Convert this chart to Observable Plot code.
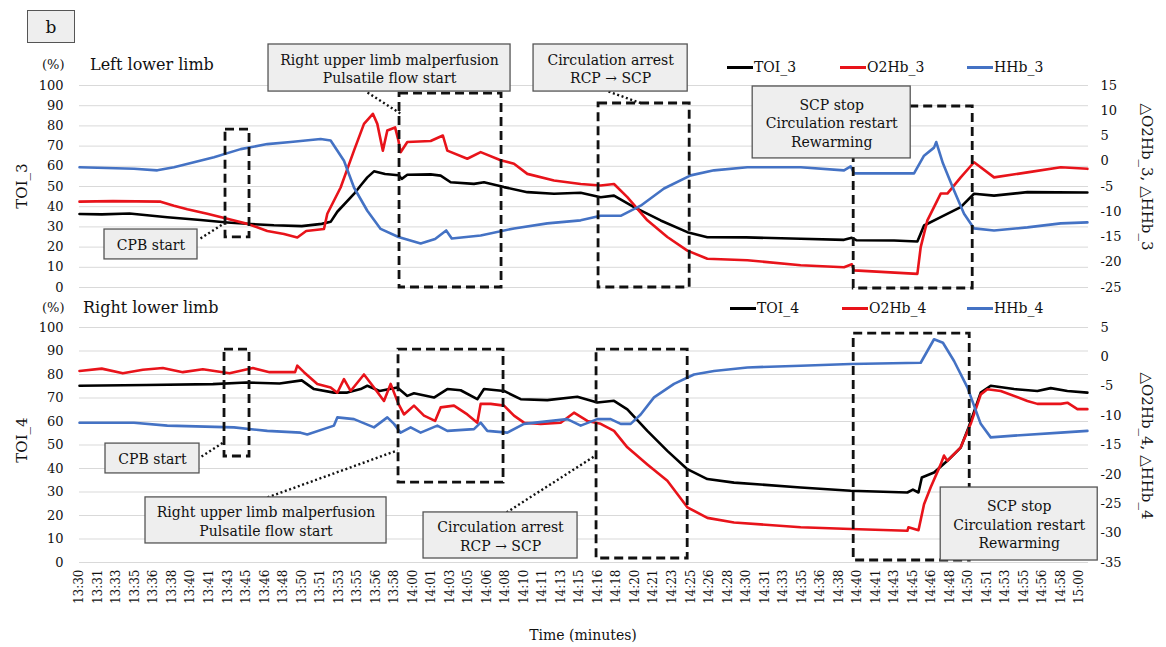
<!DOCTYPE html>
<html>
<head>
<meta charset="utf-8">
<script src="https://cdn.jsdelivr.net/npm/d3@7"></script>
<script src="https://cdn.jsdelivr.net/npm/@observablehq/plot@0.6"></script>
<style>
  body { margin: 0; background: #fff; }
  #chart { position: relative; width: 1166px; height: 647px; font-family: "DejaVu Serif", serif; color: #111; overflow: hidden; }
  .panel { position: absolute; left: 0; }
  .lbl { position: absolute; white-space: nowrap; line-height: 1; }
  .ctr { transform: translate(-50%, -50%); }
  .legend { position: absolute; white-space: nowrap; font-size: 14px; line-height: 1; transform: translateY(-50%); display: flex; align-items: center; }
  .legend i { display: inline-block; width: 26px; height: 3px; margin-right: 1px; }
  .figtag { position: absolute; left: 27px; top: 10px; width: 46px; height: 31px; border: 1.5px solid #555; background: #eee;
            font-size: 17px; display: flex; align-items: center; justify-content: center; }
</style>
</head>
<body>
<div id="chart">
  <div class="figtag">b</div>
  <div id="topPanel" class="panel" style="top:0"></div>
  <div id="bottomPanel" class="panel" style="top:300px"></div>

  <div class="lbl" style="left:42px;top:58px;font-size:13px">(%)</div>
  <div class="lbl" style="left:90px;top:57px;font-size:16px">Left lower limb</div>
  <div class="lbl" style="left:42px;top:301px;font-size:13px">(%)</div>
  <div class="lbl" style="left:83px;top:300px;font-size:16px">Right lower limb</div>

  <div class="lbl" style="left:22px;top:186px;font-size:15px;transform:translate(-50%,-50%) rotate(-90deg)">TOI_3</div>
  <div class="lbl" style="left:22px;top:440px;font-size:15px;transform:translate(-50%,-50%) rotate(-90deg)">TOI_4</div>
  <div class="lbl" style="left:1146px;top:177px;font-size:15px;transform:translate(-50%,-50%) rotate(90deg)">△O2Hb_3, △HHb_3</div>
  <div class="lbl" style="left:1146px;top:446px;font-size:15px;transform:translate(-50%,-50%) rotate(90deg)">△O2Hb_4, △HHb_4</div>

  <div class="legend" style="left:727px;top:67px"><i style="background:#000"></i>TOI_3</div>
  <div class="legend" style="left:840px;top:67px"><i style="background:#e8131a"></i>O2Hb_3</div>
  <div class="legend" style="left:967px;top:67px"><i style="background:#4472c4"></i>HHb_3</div>
  <div class="legend" style="left:730px;top:308px"><i style="background:#000"></i>TOI_4</div>
  <div class="legend" style="left:842px;top:308px"><i style="background:#e8131a"></i>O2Hb_4</div>
  <div class="legend" style="left:967px;top:308px"><i style="background:#4472c4"></i>HHb_4</div>

  <div class="lbl ctr" style="left:583px;top:635px;font-size:14px">Time (minutes)</div>
</div>

<script>
// ---- Time axis: minutes after 13:30, one label every 100 s ----
const timeLabels = ["13:30","13:31","13:33","13:35","13:36","13:38","13:40","13:41","13:43","13:45","13:46","13:48",
  "13:50","13:51","13:53","13:55","13:56","13:58","14:00","14:01","14:03","14:05","14:06","14:08","14:10","14:11",
  "14:13","14:15","14:16","14:18","14:20","14:21","14:23","14:25","14:26","14:28","14:30","14:31","14:33","14:35",
  "14:36","14:38","14:40","14:41","14:43","14:45","14:46","14:48","14:50","14:51","14:53","14:55","14:56","14:58","15:00"];
const timeEnd = 90.8; // last sample, minutes after 13:30

const leftTicks = [0, 10, 20, 30, 40, 50, 60, 70, 80, 90, 100];
const rightTicksTop = [15, 10, 5, 0, -5, -10, -15, -20, -25];
const rightTicksBottom = [5, 0, -5, -10, -15, -20, -25, -30, -35];

// ---- Left lower limb: [minute, value] ----
const TOI_3 = [[0,36.4],[2,36.2],[4.5,36.6],[7.9,34.8],[10.9,33.4],[13.3,32.2],[15.4,31.4],[17.5,30.8],[20,30.4],
  [21.8,31.5],[22.6,32.5],[23.2,37.5],[24.7,46.3],[25.3,50.5],[25.9,54.5],[26.5,57.5],[27.5,56.2],[28.7,55.6],[29,53.8],
  [29.5,55.8],[31.6,56],[32.5,55.4],[33.4,52.1],[35.5,51.3],[36.4,52.1],[38.2,49.7],[40.3,47.2],[42.7,46.4],[45.1,46.9],
  [46.9,44.7],[48.1,45.5],[49.9,39.8],[52.3,33.2],[54.7,27.4],[56.5,24.9],[60,24.8],[64.9,24.1],[68.8,23.6],[69.5,24.6],
  [69.9,23.4],[73.3,23.3],[75.4,22.8],[76,30.7],[77.5,34.8],[79.3,39.8],[80.5,46.4],[82.3,45.5],[85.3,47.2],[90.7,47]];
const O2Hb_3 = [[0,-8.0],[3,-7.9],[7.3,-8.0],[8.5,-8.8],[9.7,-9.5],[11.5,-10.4],[13.3,-11.4],[15.1,-12.4],[16.9,-13.8],
  [18.4,-14.4],[19.6,-15.1],[20.4,-13.8],[22,-13.4],[22.3,-10.4],[23.5,-5.2],[24.7,2.1],[25.6,7.4],[26.4,9.4],[26.8,7.4],
  [27.3,2.1],[27.7,6.1],[28.4,6.7],[28.7,4.1],[28.9,1.8],[29.5,3.8],[31.6,4.0],[32.7,5.1],[33.1,2.1],[34.9,0.5],[36.1,1.8],
  [37.9,0.2],[39.1,-0.5],[40.3,-2.5],[42.7,-3.8],[45.1,-4.5],[46.9,-4.8],[48.1,-4.5],[49.3,-7.1],[51.1,-11.7],[52.9,-15.0],
  [54.7,-17.7],[56.5,-19.3],[60.1,-19.6],[64.9,-20.6],[68.8,-21.0],[69.5,-20.4],[69.7,-21.6],[75.4,-22.3],[75.7,-17.0],
  [76.3,-11.7],[77.5,-6.4],[78.1,-6.4],[79.3,-3.2],[80.5,-0.2],[82.3,-3.2],[85.3,-2.2],[88.3,-1.2],[90.7,-1.5]];
const HHb_3 = [[0,-1.2],[4.9,-1.5],[7,-1.8],[8.5,-1.2],[10.3,-0.2],[12.1,0.8],[14.5,2.4],[16.9,3.4],[19,3.8],[21.7,4.4],
  [22.6,4.1],[23.8,0.1],[24.7,-5.2],[25.9,-9.8],[27.1,-13.4],[28.7,-15.0],[30.7,-16.3],[32,-15.4],[33,-13.7],[33.5,-15.3],
  [36.1,-14.7],[39.1,-13.3],[42.1,-12.3],[45.1,-11.7],[46.9,-10.8],[48.7,-10.8],[50.5,-8.8],[52.6,-5.4],[55,-2.8],
  [57.1,-1.8],[60.1,-1.2],[64.9,-1.2],[68.8,-1.8],[69.4,-1.0],[69.7,-2.4],[75.1,-2.4],[76,1.1],[76.9,2.7],[77.1,3.8],
  [77.7,-0.4],[78.7,-5.8],[79.6,-10.4],[80.5,-13.3],[82.3,-13.7],[85.3,-13.1],[88.3,-12.3],[90.7,-12.1]];

// ---- Right lower limb: [minute, value] ----
const TOI_4 = [[0,75.2],[6,75.5],[12,75.9],[15,76.6],[18,76.2],[20,77.5],[21.1,73.8],[22.9,72.3],[24.1,72.3],[25.3,73.8],
  [25.9,75.2],[27,73],[28.6,74.5],[29.5,70.9],[30.1,72],[31.9,70.2],[33.1,73.8],[34.3,73.3],[35.8,69.5],[36.4,73.8],
  [38.2,73],[39.7,69.5],[42.1,69.1],[44.8,70.5],[46.6,68.1],[48.1,68.8],[49.3,65.2],[51.1,56],[52.9,47.5],[54.7,39.7],
  [56.5,35.5],[58.9,34],[64.9,31.9],[69.4,30.5],[74.5,29.8],[75,31],[75.5,29.8],[75.8,36.2],[76.9,38.3],[78.1,43.3],
  [79.3,48.9],[80,57.4],[81.1,72.3],[82,75.2],[84.1,73.8],[86.2,73],[87.4,74.2],[88.9,73],[90.7,72.3]];
const O2Hb_4 = [[0,-2.4],[2,-2.0],[3.9,-2.8],[5.7,-2.2],[7.5,-1.9],[9.3,-2.6],[11.1,-2.1],[13.5,-2.8],[15.6,-1.9],
  [17.1,-2.6],[19.4,-2.6],[19.6,-1.5],[20.2,-2.6],[21.4,-4.6],[22.6,-5.2],[23.2,-6.1],[23.8,-3.8],[24.4,-5.8],[25.6,-3.0],
  [26.5,-5.2],[27.4,-7.5],[28,-4.6],[28.7,-8.0],[29.2,-9.8],[30.1,-8.3],[31,-10.0],[32,-10.9],[32.5,-8.6],[33.7,-8.3],
  [34.9,-9.8],[35.8,-11.2],[36.1,-8.0],[37,-8.0],[38.2,-8.3],[39.1,-10.0],[40,-11.2],[41.5,-11.4],[43.3,-11.2],[44.5,-9.5],
  [45.7,-10.9],[46.9,-11.4],[48.1,-12.6],[49.3,-15.4],[51.1,-18.3],[52.9,-21.1],[54.7,-25.6],[56.5,-27.4],[58.9,-28.2],
  [64.9,-29.0],[69.4,-29.3],[74.5,-29.6],[74.6,-29.0],[75.5,-29.5],[76,-25.1],[76.6,-22.2],[77.5,-18.3],[77.8,-16.8],
  [78.1,-17.7],[79.3,-15.4],[80.2,-11.4],[81.1,-6.4],[81.7,-5.5],[82.9,-5.8],[85.3,-7.5],[86.2,-8.0],[88.3,-8.0],
  [88.9,-7.8],[89.8,-8.9],[90.7,-8.9]];
const HHb_4 = [[0,-11.2],[4.9,-11.2],[7.9,-11.7],[13.9,-12.0],[16.9,-12.6],[19.9,-12.9],[20.5,-13.2],[22.9,-11.7],
  [23.2,-10.3],[24.7,-10.6],[26.5,-12.0],[27.7,-10.3],[28.3,-11.4],[28.9,-12.9],[29.8,-12.0],[30.7,-12.9],[32.2,-11.7],
  [33.1,-12.6],[35.5,-12.3],[36.1,-11.2],[36.7,-12.6],[38.5,-12.9],[40,-11.4],[43.9,-10.6],[45.1,-11.7],[46.6,-10.6],
  [47.8,-10.6],[48.7,-11.4],[49.6,-11.4],[50.5,-9.8],[51.7,-6.9],[53.5,-4.6],[55.3,-3.0],[57.1,-2.4],[60.1,-1.8],
  [64.9,-1.5],[69.4,-1.2],[75.7,-1.0],[76.3,1.0],[76.9,3.0],[77.7,2.4],[78.7,-0.7],[79.9,-5.2],[81.1,-11.4],[82,-13.7],
  [84.1,-13.4],[88.3,-12.9],[90.7,-12.6]];

// ---- Event annotations (x in minutes, y in TOI %) ----
const topWindows = [
  {t1: 13.14, t2: 15.30, y1: 24.8, y2: 78.2},
  {t1: 28.80, t2: 37.98, y1: 0, y2: 96.0},
  {t1: 46.71, t2: 54.91, y1: 0, y2: 91.1},
  {t1: 69.67, t2: 80.38, y1: -0.5, y2: 89.6}
];
const topCallouts = [
  {t1: 2.25, t2: 10.62, y1: 13.9, y2: 28.7, text: "CPB start"},
  {t1: 17.01, t2: 38.79, y1: 97.0, y2: 120.3, text: "Right upper limb malperfusion\nPulsatile flow start"},
  {t1: 40.86, t2: 54.73, y1: 97.0, y2: 120.3, text: "Circulation arrest\nRCP → SCP"},
  {t1: 60.58, t2: 74.80, y1: 63.9, y2: 99.5, text: "SCP stop\nCirculation restart\nRewarming"}
];
const topLeaders = [
  {t1: 10.89, y1: 24.3, t2: 13.14, y2: 32.2},
  {t1: 25.92, y1: 96.5, t2: 28.89, y2: 86.1},
  {t1: 47.61, y1: 97.0, t2: 50.59, y2: 91.1}
];
const bottomWindows = [
  {t1: 13.05, t2: 15.30, y1: 45.1, y2: 90.6},
  {t1: 28.71, t2: 38.16, y1: 34.0, y2: 90.6},
  {t1: 46.53, t2: 54.73, y1: 1.7, y2: 90.6},
  {t1: 69.67, t2: 80.11, y1: 0.85, y2: 97.4}
];
const bottomCallouts = [
  {t1: 2.34, t2: 10.80, y1: 37.9, y2: 50.6, text: "CPB start"},
  {t1: 5.94, t2: 27.63, y1: 8.1, y2: 27.7, text: "Right upper limb malperfusion\nPulsatile flow start"},
  {t1: 30.96, t2: 44.82, y1: 1.7, y2: 21.3, text: "Circulation arrest\nRCP → SCP"},
  {t1: 77.50, t2: 91.63, y1: 0.85, y2: 31.9, text: "SCP stop\nCirculation restart\nRewarming"}
];
const bottomLeaders = [
  {t1: 10.98, y1: 45.1, t2: 12.96, y2: 51.1},
  {t1: 16.92, y1: 27.7, t2: 28.62, y2: 47.7},
  {t1: 38.43, y1: 21.3, t2: 46.44, y2: 45.5}
];

const RED = "#e8131a", BLUE = "#4472c4";
const tickPositions = timeLabels.map((_, i) => i * 100 / 60);

function panel({height, marginTop, marginBottom, toi, o2hb, hhb, rightTicks, windows, callouts, leaders, showTime}) {
  // secondary (Δ) axis shares the frame with the TOI % axis
  const rMin = d3.min(rightTicks), rMax = d3.max(rightTicks);
  const k = (rMax - rMin) / 100;
  const toLeft = v => (v - rMin) / k;
  return Plot.plot({
    width: 1166, height,
    marginTop, marginBottom, marginLeft: 79, marginRight: 78,
    x: {domain: [0, timeEnd], axis: null},
    y: {domain: [0, 100], axis: null},
    style: {fontFamily: "'DejaVu Serif', serif", fontSize: "13px", color: "#111", background: "transparent", overflow: "visible"},
    marks: [
      Plot.gridY(leftTicks, {stroke: "#d9d9d9", strokeOpacity: 1, strokeWidth: 1}),
      Plot.axisY(leftTicks, {anchor: "left", tickSize: 0, tickPadding: 16, label: null, fontSize: 13}),
      Plot.axisY(rightTicks.map(toLeft), {anchor: "right", tickSize: 0, tickPadding: 12, label: null, fontSize: 13,
        tickFormat: d => String(Math.round(d * k + rMin))}),
      showTime ? Plot.axisX(tickPositions, {anchor: "bottom", tickSize: 0, tickPadding: 7, tickRotate: -90, label: null,
        fontSize: 12, tickFormat: d => timeLabels[Math.round(d * 60 / 100)]}) : null,
      Plot.line(toi, {x: d => d[0], y: d => d[1], stroke: "#000", strokeWidth: 2.6}),
      Plot.line(o2hb, {x: d => d[0], y: d => toLeft(d[1]), stroke: RED, strokeWidth: 2.6}),
      Plot.line(hhb, {x: d => d[0], y: d => toLeft(d[1]), stroke: BLUE, strokeWidth: 2.6}),
      Plot.rect(windows, {x1: "t1", x2: "t2", y1: "y1", y2: "y2", fill: "none", stroke: "#111", strokeWidth: 2.8, strokeDasharray: "9,5"}),
      Plot.link(leaders, {x1: "t1", y1: "y1", x2: "t2", y2: "y2", stroke: "#111", strokeWidth: 2.4, strokeDasharray: "2,2.6"}),
      Plot.rect(callouts, {x1: "t1", x2: "t2", y1: "y1", y2: "y2", fill: "#eeeeee", stroke: "#555", strokeWidth: 1.3}),
      Plot.text(callouts, {x: d => (d.t1 + d.t2) / 2, y: d => (d.y1 + d.y2) / 2, text: "text",
        fontSize: 14, lineHeight: 1.32, fill: "#111"})
    ]
  });
}

document.getElementById("topPanel").append(panel({
  height: 300, marginTop: 85, marginBottom: 13,
  toi: TOI_3, o2hb: O2Hb_3, hhb: HHb_3, rightTicks: rightTicksTop,
  windows: topWindows, callouts: topCallouts, leaders: topLeaders, showTime: false
}));
document.getElementById("bottomPanel").append(panel({
  height: 347, marginTop: 27, marginBottom: 85,
  toi: TOI_4, o2hb: O2Hb_4, hhb: HHb_4, rightTicks: rightTicksBottom,
  windows: bottomWindows, callouts: bottomCallouts, leaders: bottomLeaders, showTime: true
}));
</script>
</body>
</html>
